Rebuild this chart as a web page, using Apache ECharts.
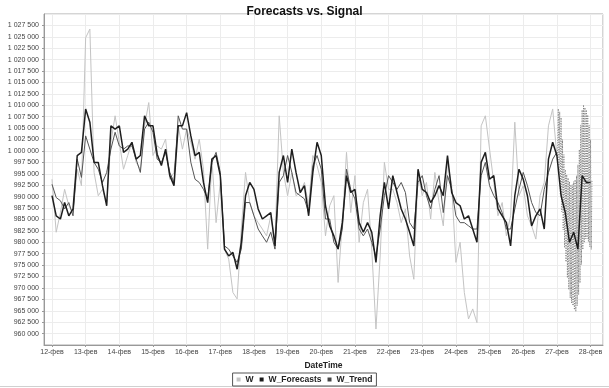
<!DOCTYPE html>
<html><head><meta charset="utf-8">
<script src="https://cdn.jsdelivr.net/npm/echarts@6/dist/echarts.min.js"></script>
<style>html,body{margin:0;padding:0;background:#fff}#c{width:609px;height:388px}</style>
</head><body><div id="c"></div>
<script>
// 3-hourly samples starting 12 Feb 00:00
const W = [993800,982200,986500,991600,988000,986500,996000,992400,1024800,1026700,995300,990200,991600,988700,1001900,1007700,
1001900,996000,999000,1001900,997500,996000,1005500,1010600,999000,1001100,1000400,1002600,993800,995300,1005500,1000400,
1004800,1001900,998200,1002600,996000,978500,998200,984300,993100,978500,976300,969000,967600,982900,995300,988700,
985800,984300,982900,981400,985800,980000,1007700,995300,990200,995300,990200,990900,993100,988000,999000,996800,
993100,981400,988000,990200,971200,984300,999700,986500,994600,980000,988700,991600,978500,961000,977000,997500,
991600,991600,988700,984300,987300,977000,971900,995300,990200,993100,985100,995300,988700,983600,997500,992400,
975600,980000,969000,963200,965400,962400,1005500,1007700,1000400,993100,985800,988700,981400,985800,1006300,990200,
992400,985800,983600,980700,990200,993100,1005500,1009200,999000];
const W_Forecasts = [990200,985800,985100,988700,985800,987300,999000,999700,1009200,1006300,997500,997500,992400,988000,1005500,1004800,
1005500,999700,1000400,1001900,998200,999000,1007700,1005500,1005500,999300,996800,1000400,994600,992400,1005500,1005500,
1008400,1003300,999000,999700,993100,988700,998200,999000,994600,978500,977000,977800,974100,980000,990200,993100,
991600,987300,985100,985800,986500,979200,995300,999000,993100,1000400,995300,990900,992400,985800,995300,1001900,
999000,988000,983600,981400,978500,984300,994600,990900,991600,984300,982200,984300,982200,975600,985800,993100,
987300,994600,990900,987300,985100,982200,979200,996000,991600,990900,988700,990200,992400,990200,999000,990900,
988700,988000,985100,985800,982900,980000,997500,999700,993800,994600,987300,985800,984300,979200,990200,996000,
993800,990200,983600,985800,987300,982900,998200,1001900,999000,990200,986500,980000,982200,978500,994600,993100,993100];
const W_Trend = [992700,989800,989100,987300,988700,985800,998200,994200,1003300,1000400,997500,996000,993100,995300,1000400,1004100,
1001100,1000400,1001100,1001100,998200,995300,1004800,1006300,1004100,998200,997500,999700,995300,993100,1007700,1004800,
1004800,997500,993800,993100,991600,989500,997500,999700,995300,979200,978500,977000,975600,978500,988700,988700,
985800,982900,981400,980000,982200,978500,993100,994600,999000,995300,990900,990200,989500,986500,996800,999000,
996000,985100,985100,980000,978500,982900,996000,991600,989500,982900,981400,982900,980000,977000,982900,990200,
994600,993100,991600,993100,990900,984300,982900,993100,994600,990200,987300,991600,994600,986500,994600,991600,
985800,984300,984300,983600,982900,982900,994600,997500,992400,990200,988700,986500,982900,982900,987300,991600,
995300,992400,988700,986500,985800,991600,995300,998200,999700];
// half-hourly forecast-period trend, from 27 Feb 00:00
const W_Trend_fc = [999700,998500,1009250,994800,1008600,990400,1007300,986700,1002500,982700,999200,978800,995900,975700,994800,972200,
994100,969600,993300,967800,992600,966700,992600,966100,993300,965200,993700,964800,994600,966100,997000,968500,
1000300,971100,1005700,975100,1009000,978400,1010100,979900,1009500,980800,1009000,980800,1007900,980100,1005700,979000,
1002500,978400,993700];
const xTicks = ['12','13','14','15','16','17','18','19','20','21','22','23','24','25','26','27','28'];

const H = 3600*1000;
const t0 = Date.UTC(2013,1,12,0,0);
const t27 = Date.UTC(2013,1,27,0,0);
const pair3 = arr => arr.map((v,i)=>[t0 + i*3*H, v]);
const pairHalf = arr => arr.map((v,i)=>[t27 + i*H/2, v]);

const font = "'Liberation Sans', Arial, sans-serif";
const chart = echarts.init(document.getElementById('c'), null, {renderer:'canvas'});
chart.setOption({
  useUTC: true,
  animation: false,
  backgroundColor: '#fff',
  title: {text:'Forecasts vs. Signal', left:'center', top:1,
    textStyle:{fontFamily:font, fontSize:12, fontWeight:'bold', color:'#111'}},
  grid: {left:44, right:6, top:14, bottom:43, show:true, borderColor:'#aaa', borderWidth:1},
  legend: {top:373, left:'center', icon:'rect', itemWidth:4, itemHeight:4, itemGap:6,
    padding:[2,4,2,4], borderColor:'#555', borderWidth:1,
    data:['W','W_Forecasts','W_Trend'],
    textStyle:{fontFamily:font, fontSize:8.5, fontWeight:'bold', color:'#222'}},
  xAxis: {type:'time', min: t0 - 5.7*H, max: Date.UTC(2013,1,28,8,53),
    minInterval: 24*H, maxInterval: 24*H,
    name:'DateTime', nameLocation:'middle', nameGap:15,
    nameTextStyle:{fontFamily:font, fontSize:8.5, fontWeight:'bold', color:'#222'},
    axisLine:{lineStyle:{color:'#999'}},
    axisTick:{show:true, length:2, lineStyle:{color:'#999'}},
    axisLabel:{fontFamily:font, fontSize:7, color:'#444', margin:4, showMinLabel:false, showMaxLabel:false,
      formatter: v => { const d = new Date(v); const idx = d.getUTCDate()-12; return (xTicks[idx]||d.getUTCDate()) + '-фев'; }},
    splitLine:{show:true, lineStyle:{color:'#ececec', width:1}}},
  yAxis: {type:'value', min:957500, max:1030000, interval:2500,
    axisLine:{show:true, lineStyle:{color:'#999'}},
    axisTick:{show:true, length:2, lineStyle:{color:'#999'}},
    axisLabel:{fontFamily:font, fontSize:7, color:'#444', margin:5, showMinLabel:false, showMaxLabel:false,
      formatter: v => String(v).replace(/\B(?=(\d{3})+(?!\d))/g, ' ')},
    splitLine:{show:true, lineStyle:{color:'#ececec', width:1}}},
  series: [
    {name:'W', type:'line', data:pair3(W), showSymbol:false, symbol:'none', color:'#c4c4c4',
      lineStyle:{width:1, color:'#c4c4c4'}},
    {name:'W_Trend', type:'line', data:pair3(W_Trend), showSymbol:false, symbol:'none', color:'#444',
      lineStyle:{width:1, color:'#555'}},
    {name:'W_Trend', type:'line', data:pairHalf(W_Trend_fc), showSymbol:false, symbol:'none', color:'#444',
      lineStyle:{width:1, color:'#7e7e7e', type:[1,1.5]}},
    {name:'W_Forecasts', type:'line', data:pair3(W_Forecasts), showSymbol:false, symbol:'none', color:'#1a1a1a',
      lineStyle:{width:1.5, color:'#1e1e1e'}}
  ],
  graphic: [{type:'line', shape:{x1:0,y1:386.5,x2:609,y2:386.5}, style:{stroke:'#d0d0d0', lineWidth:1}}]
});
</script></body></html>
